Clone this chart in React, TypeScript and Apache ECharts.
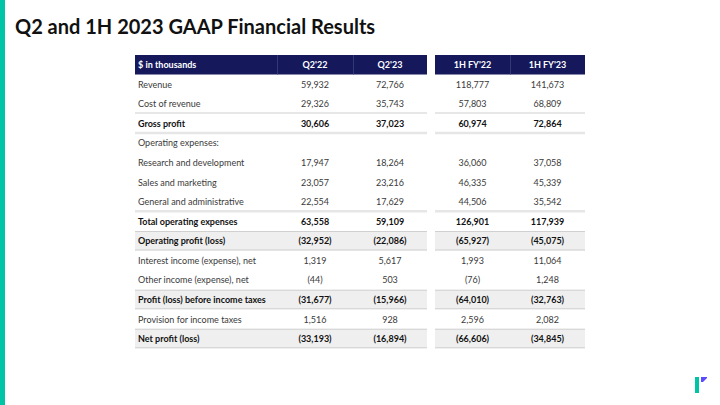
import React, { useEffect, useRef } from "react";
import * as echarts from "echarts";

const title = "Q2 and 1H 2023 GAAP Financial Results";
const headerLabel = "$ in thousands";
const leftHeaders = ["Q2'22", "Q2'23"];
const rightHeaders = ["1H FY'22", "1H FY'23"];

const labels = [
  "Revenue",
  "Cost of revenue",
  "Gross profit",
  "Operating expenses:",
  "Research and development",
  "Sales and marketing",
  "General and administrative",
  "Total operating expenses",
  "Operating profit (loss)",
  "Interest income (expense), net",
  "Other income (expense), net",
  "Profit (loss) before income taxes",
  "Provision for income taxes",
  "Net profit (loss)",
];
const q2_22 = [59932, 29326, 30606, null, 17947, 23057, 22554, 63558, -32952, 1319, -44, -31677, 1516, -33193];
const q2_23 = [72766, 35743, 37023, null, 18264, 23216, 17629, 59109, -22086, 5617, 503, -15966, 928, -16894];
const h1_22 = [118777, 57803, 60974, null, 36060, 46335, 44506, 126901, -65927, 1993, -76, -64010, 2596, -66606];
const h1_23 = [141673, 68809, 72864, null, 37058, 45339, 35542, 117939, -45075, 11064, 1248, -32763, 2082, -34845];

const boldRows = [2, 7, 8, 11, 13];
const shadedRows = [8, 11, 13];

function fmt(v: number | null): string {
  if (v === null) return "";
  const s = Math.abs(v).toLocaleString("en-US");
  return v < 0 ? "(" + s + ")" : s;
}

const FONT = "Lato, 'Open Sans', sans-serif";

export default function App() {
  const ref = useRef<HTMLDivElement>(null);
  useEffect(() => {
    if (!ref.current) return;
    const chart = echarts.init(ref.current, null, { renderer: "svg" });
    const els: any[] = [];
    const navy = "#15195c";
    const headTop = 55;
    const headH = 19.5;
    const rowTop = headTop + headH;
    const rowH = 19.56;
    const L = [135, 277, 353, 427];
    const R = [435, 510, 585];

    const txt = (text: string, x: number, y: number, opts: any = {}) => {
      const align = opts.align || "left";
      els.push({
        type: "text",
        z: 10,
        style: {
          text,
          x,
          y,
          fill: opts.fill || "#333",
          fontSize: opts.size || 9,
          fontWeight: opts.weight || "normal",
          fontFamily: opts.family || FONT,
          align,
          textAlign: align,
          verticalAlign: "middle",
          textVerticalAlign: "middle",
        },
      });
    };
    const rect = (x: number, y: number, w: number, h: number, fill: string, z = 1) =>
      els.push({ type: "rect", z, shape: { x, y, width: w, height: h }, style: { fill } });

    // background
    rect(0, 0, 720, 405, "#ffffff", 0);
    // left accent
    rect(0, 0, 5, 405, "#00c4a6", 2);
    // title
    txt(title, 15, 25.5, { size: 20, weight: "bold", fill: "#111", align: "left" });

    // header
    rect(L[0], headTop, L[3] - L[0], headH, navy, 2);
    rect(R[0], headTop, R[2] - R[0], headH, navy, 2);
    [L[1], L[2], R[1]].forEach((x) => rect(x, headTop, 0.8, headH, "#3a3f7c", 3));
    txt(headerLabel, L[0] + 3, headTop + headH / 2, { fill: "#fff", weight: "bold" });
    leftHeaders.forEach((h, i) =>
      txt(h, (L[i + 1] + L[i + 2]) / 2, headTop + headH / 2, { fill: "#fff", weight: "bold", align: "center" })
    );
    rightHeaders.forEach((h, i) =>
      txt(h, (R[i] + R[i + 1]) / 2, headTop + headH / 2, { fill: "#fff", weight: "bold", align: "center" })
    );

    const hline = (y: number, h: number, color: string) => {
      rect(L[0], y, L[3] - L[0], h, color, 4);
      rect(R[0], y, R[2] - R[0], h, color, 4);
    };

    labels.forEach((lab, i) => {
      const y0 = rowTop + i * rowH;
      const yc = y0 + rowH / 2;
      const bold = boldRows.includes(i);
      const shaded = shadedRows.includes(i);
      if (shaded) {
        rect(L[0], y0, L[3] - L[0], rowH, "#efefef", 2);
        rect(R[0], y0, R[2] - R[0], rowH, "#efefef", 2);
        hline(y0, 1, "#d0d0d0");
        hline(y0 + rowH - 1, 1, "#d0d0d0");
      }
      const o = { weight: bold ? "bold" : "normal", fill: bold ? "#111" : "#3a3a3a" };
      txt(lab, L[0] + 3, yc, o);
      txt(fmt(q2_22[i]), (L[1] + L[2]) / 2, yc, { ...o, align: "center" });
      txt(fmt(q2_23[i]), (L[2] + L[3]) / 2, yc, { ...o, align: "center" });
      txt(fmt(h1_22[i]), (R[0] + R[1]) / 2, yc, { ...o, align: "center" });
      txt(fmt(h1_23[i]), (R[1] + R[2]) / 2, yc, { ...o, align: "center" });
    });
    // extra separators
    hline(rowTop + 2 * rowH - 1, 1, "#cfcfcf");
    hline(rowTop + 3 * rowH - 1.5, 2.5, "#e6e6e6");
    hline(rowTop + 7 * rowH - 1.5, 2.5, "#e6e6e6");

    // logo
    rect(695, 377, 4, 16, "#00c4a6", 5);
    els.push({
      type: "polygon",
      z: 5,
      shape: { points: [[701, 377], [707, 377], [707, 378], [703, 382], [701, 382]] },
      style: { fill: "#5b4bff" },
    });

    chart.setOption({ animation: false, graphic: { elements: els } });
    return () => chart.dispose();
  }, []);
  return (
    <div
      ref={ref}
      style={{ position: "fixed", left: 0, top: 0, width: 720, height: 405, background: "#fff" }}
    />
  );
}
